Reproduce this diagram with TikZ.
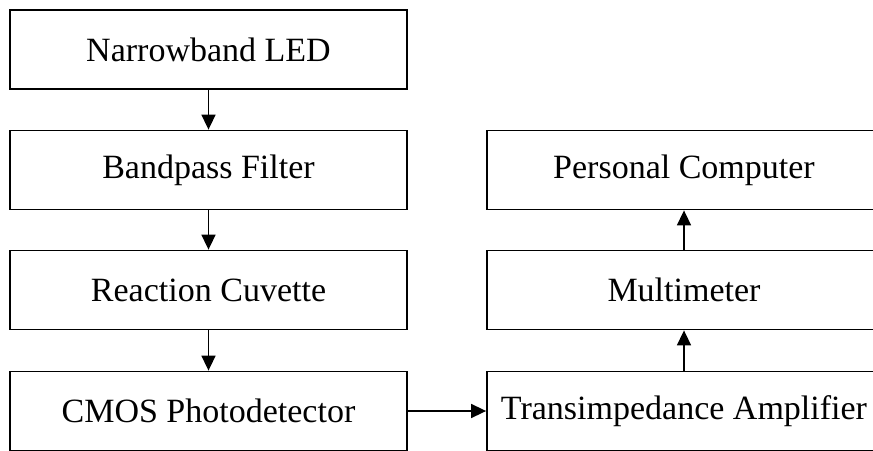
\documentclass[tikz,border=0pt]{standalone}
\usepackage{fontspec}
\setmainfont{Liberation Serif}
\usetikzlibrary{arrows.meta}
\begin{document}
\begin{tikzpicture}[x=1pt,y=-1pt,
  blockbox/.style={draw=black, line width=1.8pt, minimum width=397pt, minimum height=79pt, inner sep=0pt, font=\fontsize{34}{38}\selectfont, anchor=center},
  rblockbox/.style={blockbox, minimum width=394pt},
  conn/.style={line width=1.6pt, -{Triangle[width=14pt,length=15pt]}}]
\useasboundingbox (0,0) rectangle (873,450);
\clip (0,0) rectangle (873,450);
\fill[white] (0,0) rectangle (873,450);
\node[blockbox] (led) at (208.5,49.5) {Narrowband LED};
\node[blockbox] (bpf) at (208.5,170) {Bandpass Filter};
\node[blockbox] (cuv) at (208.5,290) {Reaction Cuvette};
\node[blockbox] (cmos) at (208.5,411) {CMOS Photodetector};
\node[rblockbox] (pc) at (684,170) {Personal Computer};
\node[rblockbox] (mm) at (684,290) {Multimeter};
\node[rblockbox] (tia) at (684,411) {Transimpedance Amplifier};
\draw[conn] (led) -- (bpf);
\draw[conn] (bpf) -- (cuv);
\draw[conn] (cuv) -- (cmos);
\draw[conn] (cmos) -- (tia);
\draw[conn] (tia) -- (mm);
\draw[conn] (mm) -- (pc);
\end{tikzpicture}
\end{document}
